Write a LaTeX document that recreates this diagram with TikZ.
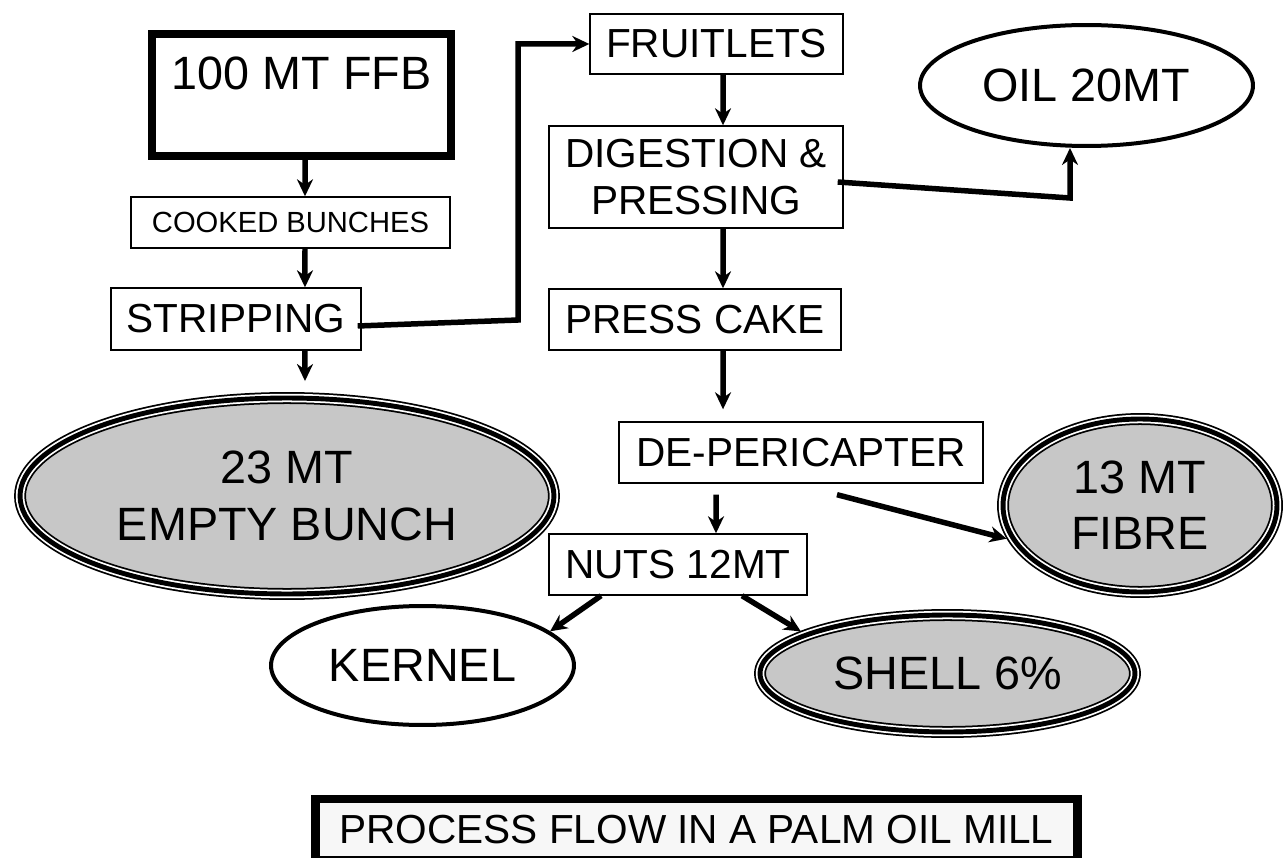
\documentclass[tikz,border=0pt]{standalone}
\usepackage{fontspec}
\setmainfont{Liberation Sans}
\usetikzlibrary{arrows.meta,shapes.geometric}

\begin{document}
\begin{tikzpicture}[x=0.02cm,y=-0.02cm,->,>={Stealth[length=0.34cm,width=0.32cm]},
    flow/.style={line width=0.11cm},
    box/.style={draw,line width=0.8pt,inner sep=0pt,minimum height=1.22cm,
                font=\fontsize{23.1}{27}\selectfont},
    plain/.style={ellipse,draw,line width=0.08cm,inner sep=0pt,
                  font=\fontsize{26.6}{32}\selectfont},
    waste/.style={ellipse,draw,line width=2.8pt,inner sep=0pt,outer sep=3.4pt,
                  align=center,font=\fontsize{26.6}{32}\selectfont,
                  preaction={fill=black!22,draw,line width=1pt,double=white,
                             double distance=4.8pt}}]
  \useasboundingbox (0,0) rectangle (1285,858);

  \node[box,line width=0.16cm,minimum width=5.98cm,text height=1.12cm,text depth=1.32cm,
        font=\fontsize{26.6}{32}\selectfont] (ffb) at (301.5,95) {100 MT FFB};
  \node[box,minimum width=6.38cm,minimum height=1.02cm,
        font=\fontsize{16.6}{20}\selectfont] (cooked) at (290.5,222.5) {COOKED BUNCHES};
  \node[box,minimum width=5cm,minimum height=1.24cm] (strip) at (236,319) {STRIPPING};
  \node[waste,minimum width=10.68cm,minimum height=3.92cm] (empty) at (287,496) {23 MT\\EMPTY BUNCH};

  \node[box,minimum width=5.06cm,minimum height=1.2cm] (fruit) at (716.5,44) {FRUITLETS};
  \node[box,minimum width=5.88cm,minimum height=2.04cm,align=center] (digest) at (696,177) {DIGESTION \&\\PRESSING};
  \node[plain,minimum width=6.66cm,minimum height=2.42cm] (oil) at (1086.5,85.5) {OIL 20MT};
  \node[box,minimum width=5.84cm] (cake) at (695,319.5) {PRESS CAKE};
  \node[box,minimum width=7.28cm] (deper) at (801,452.5) {DE-PERICAPTER};
  \node[waste,minimum width=5.48cm,minimum height=3.46cm] (fibre) at (1140,505.5) {13 MT\\FIBRE};
  \node[box,minimum width=5.16cm] (nuts) at (678,564.5) {NUTS 12MT};
  \node[plain,minimum width=6.06cm,minimum height=2.38cm] (kernel) at (422.5,665.5) {KERNEL};
  \node[waste,minimum width=7.5cm,minimum height=2.34cm] (shell) at (947.5,673.5) {SHELL 6\%};

  \node[box,line width=0.17cm,fill=black!3,minimum width=15.24cm] (title) at (696.5,829.5) {PROCESS FLOW IN A PALM OIL MILL};

  % bunch line
  \coordinate (sf) at (518,320);
  \coordinate (do) at (1070,198);
  \draw[flow] ([xshift=0.07cm]ffb.south) -- ([xshift=0.29cm]cooked.north);
  \draw[flow] ([xshift=0.29cm]cooked.south) -- ([xshift=1.38cm]strip.north);
  \draw[flow] ([xshift=1.38cm]strip.south) -- ([xshift=0.36cm,yshift=0.22cm]empty.north);
  \draw[flow] ([xshift=-0.08cm,yshift=-0.14cm]strip.east) -- (sf) |- (fruit.west);

  % fruit line
  \draw[flow] ([xshift=0.13cm]fruit.south) -- ([xshift=0.54cm]digest.north);
  \draw[flow] ([xshift=0.54cm]digest.south) -- ([xshift=0.56cm]cake.north);
  \draw[flow] ([xshift=0.56cm]cake.south) -- ([xshift=-1.56cm,yshift=0.24cm]deper.north);
  \draw[flow] ([xshift=-0.12cm,yshift=-0.1cm]digest.east) -- (do) -- (do |- oil.south);
  \draw[flow] ([xshift=-1.7cm,yshift=-0.22cm]deper.south) -- ([xshift=0.76cm]nuts.north);
  \draw[flow] ([xshift=0.72cm,yshift=-0.22cm]deper.south) -- (fibre.194);
  \draw[flow] ([xshift=-1.54cm]nuts.south) -- (kernel.15);
  \draw[flow] ([xshift=1.28cm]nuts.south) -- (shell.164);
\end{tikzpicture}
\end{document}
